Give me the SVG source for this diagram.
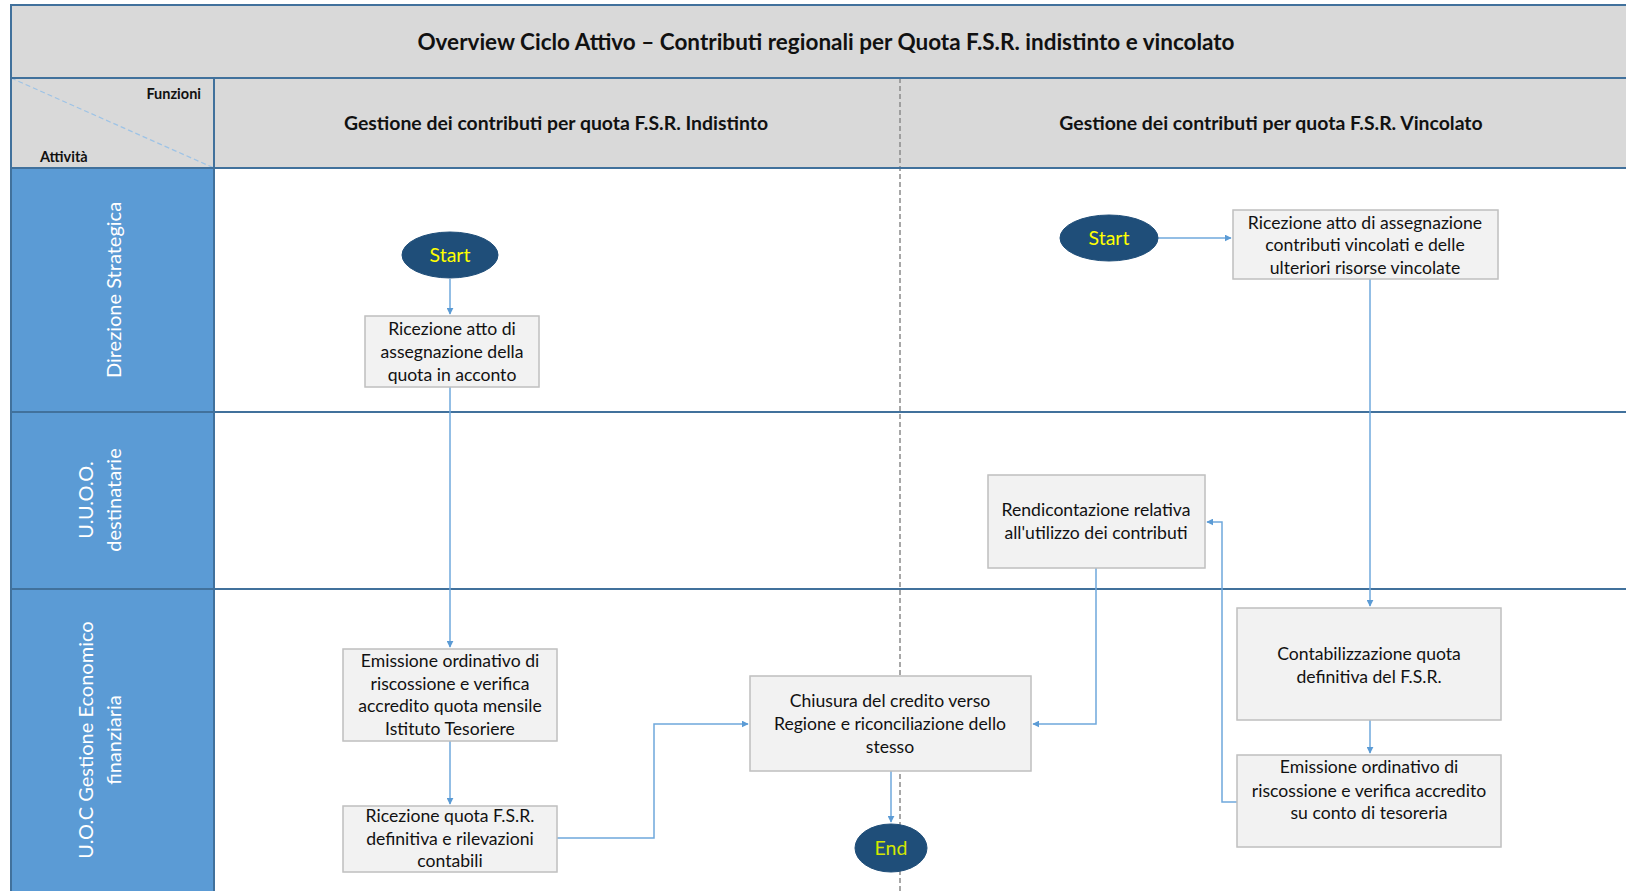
<svg xmlns="http://www.w3.org/2000/svg" width="1626" height="891" viewBox="0 0 1626 891">
<style>
.frame{stroke:#41719c;stroke-width:2;fill:none}
.band{fill:#d9d9d9}
.lanecol{fill:#5b9bd5}
.box{fill:#f2f2f2;stroke:#bfbfbf;stroke-width:1.5}
.term{fill:#1f4e79;stroke:#1f4e79}
.t{font-family:Lato,"Liberation Sans",sans-serif;font-size:17.6px;fill:#111;text-anchor:middle}
.tt{font-family:Lato,"Liberation Sans",sans-serif;font-size:19.5px;fill:#ffff00;text-anchor:middle}
.h{font-family:Lato,"Liberation Sans",sans-serif;font-weight:bold;fill:#111;text-anchor:middle}
.lane{font-family:Lato,"Liberation Sans",sans-serif;font-size:20px;font-weight:normal;fill:#ffffff;text-anchor:middle}
.c{fill:none;stroke:#6fa8dc;stroke-width:1.5}
</style>
<defs>
<marker id="ah" viewBox="0 0 10 10" refX="9" refY="5" markerWidth="7" markerHeight="7" orient="auto" markerUnits="userSpaceOnUse">
<path d="M0,0 L10,5 L0,10 z" fill="#5b9bd5"/>
</marker>
</defs>
<rect x="0" y="0" width="1626" height="891" fill="#ffffff"/>
<g id="background">
<rect class="band" x="11" y="5" width="1615" height="163"/>
<rect class="lanecol" x="11" y="168" width="203" height="723"/>
<line x1="900" y1="78" x2="900" y2="891" stroke="#8a8a8a" stroke-width="1.5" stroke-dasharray="5,3"/>
<line x1="11" y1="78" x2="214" y2="168" stroke="#9dc3e6" stroke-width="1.2" stroke-dasharray="5,3"/>
<path class="frame" d="M11,891 V5 H1626 M11,78 H1626 M11,168 H1626 M11,412 H1626 M11,589 H1626 M214,78 V891"/>
<text class="h" x="826" y="50" font-size="22.5">Overview Ciclo Attivo – Contributi regionali per Quota F.S.R. indistinto e vincolato</text>
<text class="h" x="201" y="99" font-size="14.5" style="text-anchor:end">Funzioni</text>
<text class="h" x="40" y="162" font-size="14.5" style="text-anchor:start">Attività</text>
<text class="h" x="556" y="130" font-size="19.4">Gestione dei contributi  per quota F.S.R. Indistinto</text>
<text class="h" x="1271" y="130" font-size="19.4">Gestione dei contributi  per quota F.S.R. Vincolato</text>
</g>
<g id="lane-direzione">
<text class="lane" transform="translate(121,290) rotate(-90)">Direzione  Strategica</text>
</g>
<g id="lane-uuoo">
<text class="lane" transform="translate(93,500) rotate(-90)">U.U.O.O.</text>
<text class="lane" transform="translate(121,500) rotate(-90)">destinatarie</text>
</g>
<g id="lane-uoc">
<text class="lane" transform="translate(93,740) rotate(-90)">U.O.C Gestione  Economico</text>
<text class="lane" transform="translate(121,740) rotate(-90)">finanziaria</text>
</g>
<g id="connectors">
<path class="c" d="M450,279 V314" marker-end="url(#ah)"/>
<path class="c" d="M450,387 V647" marker-end="url(#ah)"/>
<path class="c" d="M450,741 V804" marker-end="url(#ah)"/>
<path class="c" d="M557,838 H654 V724 H748" marker-end="url(#ah)"/>
<path class="c" d="M891,771 V822" marker-end="url(#ah)"/>
<path class="c" d="M1158,238 H1231" marker-end="url(#ah)"/>
<path class="c" d="M1370,279 V606" marker-end="url(#ah)"/>
<path class="c" d="M1370,720 V753" marker-end="url(#ah)"/>
<path class="c" d="M1237,802 H1222 V522 H1207" marker-end="url(#ah)"/>
<path class="c" d="M1096,568 V724 H1033" marker-end="url(#ah)"/>
</g>
<g id="start1">
<ellipse class="term" cx="450" cy="255" rx="48" ry="23"/>
<text class="tt" x="450" y="262">Start</text>
</g>
<g id="box1">
<rect class="box" x="365" y="316" width="174" height="71"/>
<text class="t" x="452" y="335">Ricezione atto di</text>
<text class="t" x="452" y="358">assegnazione della</text>
<text class="t" x="452" y="381">quota in acconto</text>
</g>
<g id="box2">
<rect class="box" x="343" y="649" width="214" height="92"/>
<text class="t" x="450" y="667">Emissione ordinativo di</text>
<text class="t" x="450" y="690">riscossione e verifica</text>
<text class="t" x="450" y="712">accredito quota mensile</text>
<text class="t" x="450" y="735">Istituto Tesoriere</text>
</g>
<g id="box3">
<rect class="box" x="343" y="806" width="214" height="66"/>
<text class="t" x="450" y="822">Ricezione quota F.S.R.</text>
<text class="t" x="450" y="845">definitiva e rilevazioni</text>
<text class="t" x="450" y="867">contabili</text>
</g>
<g id="box4">
<rect class="box" x="750" y="676" width="281" height="95"/>
<text class="t" x="890" y="707">Chiusura del credito verso</text>
<text class="t" x="890" y="730">Regione e riconciliazione dello</text>
<text class="t" x="890" y="753">stesso</text>
</g>
<g id="end">
<ellipse class="term" cx="891" cy="848" rx="36" ry="24"/>
<text class="tt" x="891" y="855" style="fill:#d4e600">End</text>
</g>
<g id="start2">
<ellipse class="term" cx="1109" cy="238" rx="49" ry="23"/>
<text class="tt" x="1109" y="245">Start</text>
</g>
<g id="box5">
<rect class="box" x="1233" y="210" width="265" height="69"/>
<text class="t" x="1365" y="229">Ricezione atto di assegnazione</text>
<text class="t" x="1365" y="251">contributi vincolati e delle</text>
<text class="t" x="1365" y="274">ulteriori risorse vincolate</text>
</g>
<g id="box6">
<rect class="box" x="988" y="475" width="217" height="93"/>
<text class="t" x="1096" y="516">Rendicontazione relativa</text>
<text class="t" x="1096" y="539">all'utilizzo dei contributi</text>
</g>
<g id="box7">
<rect class="box" x="1237" y="608" width="264" height="112"/>
<text class="t" x="1369" y="660">Contabilizzazione quota</text>
<text class="t" x="1369" y="683">definitiva del F.S.R.</text>
</g>
<g id="box8">
<rect class="box" x="1237" y="755" width="264" height="92"/>
<text class="t" x="1369" y="773">Emissione ordinativo di</text>
<text class="t" x="1369" y="797">riscossione e verifica accredito</text>
<text class="t" x="1369" y="819">su conto di tesoreria</text>
</g>
</svg>
